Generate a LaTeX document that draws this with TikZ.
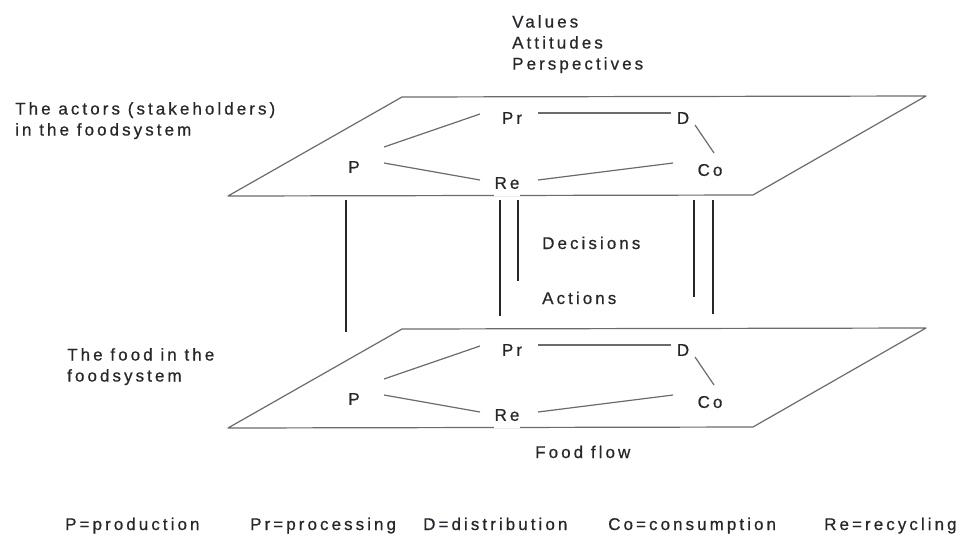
\documentclass[tikz,border=0pt]{standalone}
\usepackage{fontspec}
\setmainfont{Liberation Sans}[LetterSpace=18, FakeBold=0.6]
\definecolor{planegrey}{HTML}{6A6A70}
\definecolor{labelink}{HTML}{26262C}

\tikzset{
  lbl/.style={text=labelink, inner sep=0pt, font=\fontsize{17}{21}\selectfont},
  stage/.style={lbl, inner sep=1pt},
  plane/.style={draw=planegrey, line width=1.2pt, line join=round},
  link/.style={draw=planegrey, line width=1.2pt},
  tie/.style={draw=labelink, line width=1.4pt}
}

\begin{document}
\begin{tikzpicture}[x=1pt, y=-1pt]
\useasboundingbox (0,0) rectangle (968,547);

% the two levels: actors above, food below
\foreach \lv/\dy in {act/0, food/232} {
  \begin{scope}[yshift=-\dy pt]
    \draw[plane] (402,97) -- (926,96) -- (753,195) -- (228,196) -- cycle;
    \node[stage] (\lv P) at (354,167) {P};
    \node[stage] (\lv Pr) at (512,118) {Pr};
    \node[stage] (\lv D) at (683,118) {D};
    \node[stage] (\lv Co) at (710,170) {Co};
    \node[stage, fill=white, inner ysep=7pt] (\lv Re) at (507,183) {Re};
    \draw[link] ([shift={(30,-20)}]\lv P.center) -- ([shift={(-32,-4)}]\lv Pr.center);
    \draw[link] ([shift={(30,-4)}]\lv P.center) -- ([shift={(-27,-3)}]\lv Re.center);
    \draw[link] ([shift={(26,-5)}]\lv Pr.center) -- ([shift={(-12,-5)}]\lv D.center);
    \draw[link] ([shift={(12,7)}]\lv D.center) -- ([shift={(4,-17)}]\lv Co.center);
    \draw[link] ([shift={(31,-3)}]\lv Re.center) -- ([shift={(-37,-7)}]\lv Co.center);
  \end{scope}
}

% decisions and actions between the levels
\draw[tie] (346,200) -- (346,332);
\draw[tie] (500,200) -- (500,316);
\draw[tie] (518,200) -- (518,281);
\draw[tie] (694,200) -- (694,297);
\draw[tie] (713,200) -- (713,314);

\node[lbl, anchor=north west, align=left] (views) at (512,15) {Values\\Attitudes\\Perspectives};
\node[lbl, anchor=north west, align=left] (actors) at (15,102) {The actors (stakeholders)\\in the foodsystem};
\node[lbl, anchor=north west, align=left] (food) at (67,348) {The food in the\\foodsystem};
\node[lbl, anchor=base west] (decisions) at (542,249) {Decisions};
\node[lbl, anchor=base west] (actions) at (542,304) {Actions};
\node[lbl, anchor=base west] (flow) at (535,458) {Food flow};

% legend
\node[lbl, anchor=base west] (lgP) at (65,530) {P=production};
\node[lbl, anchor=base west] (lgPr) at (250,530) {Pr=processing};
\node[lbl, anchor=base west] (lgD) at (423,530) {D=distribution};
\node[lbl, anchor=base west] (lgCo) at (608,530) {Co=consumption};
\node[lbl, anchor=base west] (lgRe) at (824,530) {Re=recycling};
\end{tikzpicture}
\end{document}
